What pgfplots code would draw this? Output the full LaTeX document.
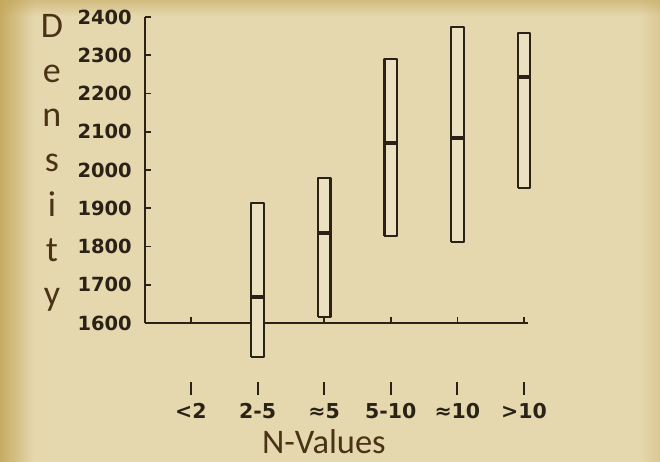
\documentclass[border=0pt]{standalone}
\usepackage{pgfplots}
\pgfplotsset{compat=1.18}
\usetikzlibrary{fadings}
\usepackage{fontspec}
\setmainfont{Carlito}
\newfontfamily\tickfont{DejaVu Sans}
\definecolor{bg}{HTML}{E6D8AE}
\definecolor{edge}{HTML}{C2A65A}
\definecolor{ink}{HTML}{2A2217}
\definecolor{lbl}{HTML}{4A3217}
\definecolor{boxfill}{HTML}{EBE0BF}
\tikzfading[name=fade right, left color=transparent!0, right color=transparent!100]
\tikzfading[name=fade down, top color=transparent!0, bottom color=transparent!100]
\tikzfading[name=fade left, left color=transparent!100, right color=transparent!0]
\begin{document}
\begin{tikzpicture}
\fill[bg] (0pt,0pt) rectangle (660pt,462pt);
\fill[edge, path fading=fade down, fill opacity=0.55] (0pt,446pt) rectangle (660pt,462pt);
\fill[edge, path fading=fade right, fill opacity=0.9] (0pt,0pt) rectangle (34pt,462pt);
\fill[edge, path fading=fade left, fill opacity=0.3] (640pt,0pt) rectangle (660pt,462pt);
\begin{axis}[
  at={(145pt,139pt)}, anchor=south west,
  scale only axis, width=383pt, height=306pt,
  xmin=-0.69, xmax=5.06, ymin=1600, ymax=2400,
  clip=false,
  axis x line*=bottom, axis y line*=left,
  axis line style={ink, line width=2.2pt, -},
  tick align=inside,
  major tick length=6pt,
  tick style={ink, line width=1.6pt},
  ytick={1600,1700,...,2400},
  xtick={0,...,5},
  xticklabels={{\rule{2pt}{13pt}\\[1pt]<2},{\rule{2pt}{13pt}\\[1pt]2-5},{\rule{2pt}{13pt}\\[1pt]≈5},{\rule{2pt}{13pt}\\[1pt]5-10},{\rule{2pt}{13pt}\\[1pt]≈10},{\rule{2pt}{13pt}\\[1pt]>10}},
  xticklabel style={anchor=north, inner sep=0pt, yshift=-59pt, align=center,
    font=\tickfont\bfseries\fontsize{20.5}{22}\selectfont, text=ink},
  yticklabel style={anchor=east, inner sep=0pt, xshift=-13pt,
    font=\tickfont\bfseries\fontsize{19.5}{20}\selectfont, text=ink},
  /pgf/number format/assume math mode=true,
  /pgf/number format/1000 sep={},
  ylabel={D\\e\\n\\s\\i\\t\\y},
  ylabel style={rotate=-90, align=center, anchor=center, inner sep=0pt,
    at={(axis description cs:-0.243,0.523)},
    font=\fontsize{36}{44.7}\selectfont, text=lbl},
  xlabel={N-Values},
  xlabel style={anchor=base, inner sep=0pt, at={(axis description cs:0.467,-0.428)},
    font=\fontsize{34.5}{38}\selectfont, text=lbl},
  every axis plot/.append style={line join=round},
]
% boxes: x left, x right, bottom, top
\addplot[draw=ink, fill=boxfill, line width=2.3pt] coordinates {(0.905,1511) (1.095,1511) (1.095,1914) (0.905,1914) (0.905,1511)};
\addplot[draw=ink, fill=boxfill, line width=2.3pt] coordinates {(1.905,1616) (2.095,1616) (2.095,1979) (1.905,1979) (1.905,1616)};
\addplot[draw=ink, fill=boxfill, line width=2.3pt] coordinates {(2.905,1827) (3.095,1827) (3.095,2290) (2.905,2290) (2.905,1827)};
\addplot[draw=ink, fill=boxfill, line width=2.3pt] coordinates {(3.905,1812) (4.095,1812) (4.095,2374) (3.905,2374) (3.905,1812)};
\addplot[draw=ink, fill=boxfill, line width=2.3pt] coordinates {(4.905,1953) (5.095,1953) (5.095,2358) (4.905,2358) (4.905,1953)};
% medians
\addplot[draw=ink, line width=3.4pt] coordinates {(0.905,1668) (1.095,1668)};
\addplot[draw=ink, line width=3.4pt] coordinates {(1.905,1835) (2.095,1835)};
\addplot[draw=ink, line width=3.4pt] coordinates {(2.905,2071) (3.095,2071)};
\addplot[draw=ink, line width=3.4pt] coordinates {(3.905,2084) (4.095,2084)};
\addplot[draw=ink, line width=3.4pt] coordinates {(4.905,2243) (5.095,2243)};
\end{axis}
\pgfresetboundingbox
\path (0pt,0pt) rectangle (660pt,462pt);
\end{tikzpicture}
\end{document}
